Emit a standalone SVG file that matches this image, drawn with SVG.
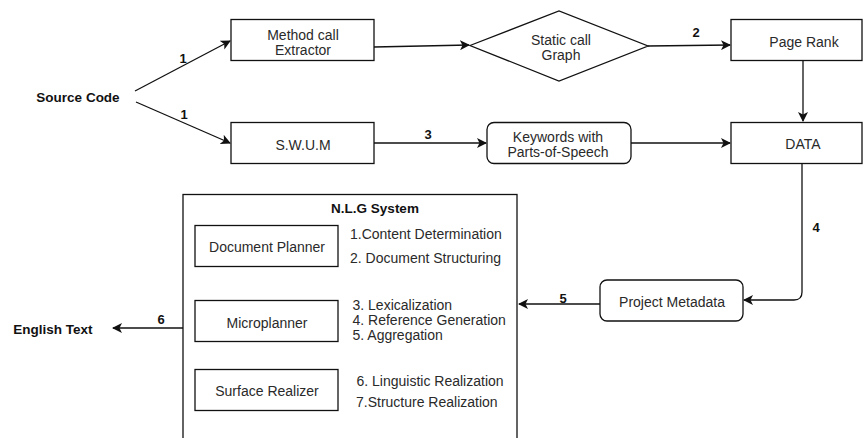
<svg xmlns="http://www.w3.org/2000/svg" width="864" height="438" viewBox="0 0 864 438">
<style>
.box{fill:#fff;stroke:#111;stroke-width:1.3}
.t{font-family:"Liberation Sans",Arial,sans-serif;font-size:14px;fill:#2a2a2a;text-anchor:middle}
.l{text-anchor:start}
.b{font-family:"Liberation Sans",Arial,sans-serif;font-size:13.5px;font-weight:bold;fill:#111;text-anchor:middle}
.n{font-family:"Liberation Sans",Arial,sans-serif;font-size:13px;font-weight:bold;fill:#111;text-anchor:middle}
.c{fill:none;stroke:#111;stroke-width:1.3}
</style>
<defs>
<marker id="ah" viewBox="0 0 10 10" refX="9" refY="5" markerWidth="10" markerHeight="10" markerUnits="userSpaceOnUse" orient="auto">
<path d="M0,0 L10,5 L0,10 L2.5,5 Z" fill="#111"/>
</marker>
</defs>
<rect width="864" height="438" fill="#fff"/>
<g id="connectors">
<path class="c" d="M135,91 L230,41" marker-end="url(#ah)"/>
<path class="c" d="M136,102 L230,143" marker-end="url(#ah)"/>
<path class="c" d="M374,47 L469,45" marker-end="url(#ah)"/>
<path class="c" d="M648,46 L730,45" marker-end="url(#ah)"/>
<path class="c" d="M374,143 L486,143" marker-end="url(#ah)"/>
<path class="c" d="M631,143 L730,143" marker-end="url(#ah)"/>
<path class="c" d="M803,61 L803,121" marker-end="url(#ah)"/>
<path class="c" d="M802,164 L802,292 Q802,300 794,300 L744,300" marker-end="url(#ah)"/>
<path class="c" d="M600,304 L519,304" marker-end="url(#ah)"/>
<path class="c" d="M183,328 L113,328" marker-end="url(#ah)"/>
<path class="c" d="M267,267 L267,299" marker-end="url(#ah)"/>
<path class="c" d="M265,342 L265,368" marker-end="url(#ah)"/>
<text class="n" x="183" y="63">1</text>
<text class="n" x="184" y="119">1</text>
<text class="n" x="696" y="37">2</text>
<text class="n" x="428" y="139">3</text>
<text class="n" x="816" y="232">4</text>
<text class="n" x="563" y="303">5</text>
<text class="n" x="161" y="324">6</text>
</g>
<g id="source-code"><text class="b" x="78" y="102">Source Code</text></g>
<g id="english-text"><text class="b" x="53" y="334">English Text</text></g>
<g id="method-call-extractor">
<rect class="box" x="231" y="19.5" width="143" height="41"/>
<text class="t" x="303" y="40">Method call</text>
<text class="t" x="303" y="55">Extractor</text>
</g>
<g id="static-call-graph">
<polygon class="box" points="470,45.5 559,11 648,46 559,81"/>
<text class="t" x="561" y="44.5">Static call</text>
<text class="t" x="561" y="59.5">Graph</text>
</g>
<g id="page-rank">
<rect class="box" x="731" y="19.5" width="131" height="41"/>
<text class="t" x="804" y="47">Page Rank</text>
</g>
<g id="swum">
<rect class="box" x="231" y="122.5" width="143" height="41"/>
<text class="t" x="303" y="150">S.W.U.M</text>
</g>
<g id="keywords">
<rect class="box" x="487" y="122.5" width="144" height="41" rx="7"/>
<text class="t" x="558" y="142">Keywords with</text>
<text class="t" x="558" y="157">Parts-of-Speech</text>
</g>
<g id="data">
<rect class="box" x="731" y="122.5" width="131" height="41"/>
<text class="t" x="803" y="149">DATA</text>
</g>
<g id="project-metadata">
<rect class="box" x="600" y="280" width="143" height="41" rx="7"/>
<text class="t" x="672" y="306.5">Project Metadata</text>
</g>
<g id="nlg-system">
<rect class="box" x="183" y="194.5" width="334" height="260"/>
<text class="b" x="375" y="213">N.L.G System</text>
<text class="t l" x="350" y="239">1.Content Determination</text>
<text class="t l" x="350" y="262.5">2. Document Structuring</text>
<text class="t l" x="352.5" y="309.5">3. Lexicalization</text>
<text class="t l" x="352.5" y="324.5">4. Reference Generation</text>
<text class="t l" x="352.5" y="339.5">5. Aggregation</text>
<text class="t l" x="356.5" y="386">6. Linguistic Realization</text>
<text class="t l" x="356" y="406.5">7.Structure Realization</text>
</g>
<g id="document-planner">
<rect class="box" x="195" y="225.5" width="143" height="41"/>
<text class="t" x="267" y="252">Document Planner</text>
</g>
<g id="microplanner">
<rect class="box" x="195" y="300.5" width="143" height="41"/>
<text class="t" x="267" y="328">Microplanner</text>
</g>
<g id="surface-realizer">
<rect class="box" x="195" y="369.5" width="143" height="41"/>
<text class="t" x="267" y="396">Surface Realizer</text>
</g>
</svg>
